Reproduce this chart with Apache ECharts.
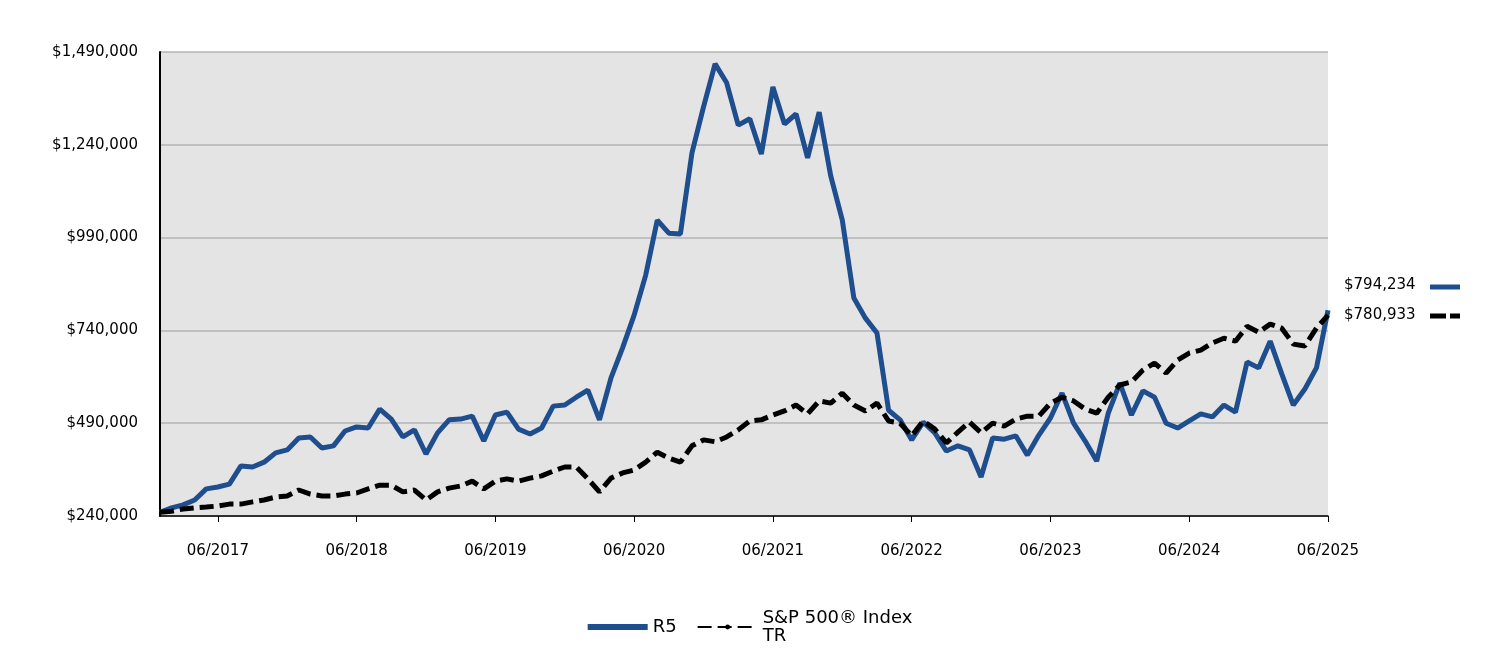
<!DOCTYPE html>
<html><head><meta charset="utf-8">
<script src="https://cdn.jsdelivr.net/npm/echarts@6/dist/echarts.min.js"></script>
<style>html,body{margin:0;padding:0;background:#fff}#c{width:1500px;height:660px}</style>
</head><body><div id="c"></div>
<script>
const startYear = 2017;
const months = [];
for (let i = 0; i < 102; i++) { const m = i % 12 + 1, y = startYear + Math.floor(i / 12); months.push((m < 10 ? '0' : '') + m + '/' + y); }
const tickLabels = ['01/2017','06/2017','06/2018','06/2019','06/2020','06/2021','06/2022','06/2023','06/2024','06/2025'];
const yTicks = [240000, 490000, 740000, 990000, 1240000, 1490000];
const r5 = [250000,262000,270000,283000,313000,318000,326000,375000,372000,385000,410000,418000,450000,453000,423000,429000,469000,480000,477000,528000,501000,453000,472000,407000,464000,499000,501000,509000,442000,512000,520000,474000,461000,477000,536000,539000,560000,579000,499000,612000,693000,781000,889000,1037000,1002000,1000000,1218000,1342000,1458000,1407000,1293000,1310000,1215000,1396000,1296000,1323000,1205000,1328000,1156000,1037000,827000,773000,733000,525000,499000,445000,493000,464000,415000,429000,418000,345000,450000,447000,456000,404000,458000,504000,571000,490000,442000,388000,517000,598000,512000,577000,560000,490000,477000,496000,515000,507000,539000,520000,655000,639000,711000,623000,539000,582000,639000,794234];
const sp = [250000,253000,259000,262000,264000,267000,272000,272000,278000,283000,291000,294000,310000,299000,294000,294000,299000,302000,313000,323000,323000,305000,310000,283000,305000,315000,321000,334000,313000,334000,340000,334000,342000,348000,361000,372000,372000,340000,305000,342000,356000,364000,385000,412000,396000,385000,429000,445000,440000,453000,472000,496000,499000,512000,523000,539000,515000,550000,544000,571000,539000,523000,544000,496000,490000,456000,496000,474000,437000,466000,493000,464000,490000,482000,501000,509000,509000,544000,560000,550000,528000,517000,560000,593000,601000,633000,652000,625000,660000,679000,687000,706000,719000,711000,751000,735000,757000,746000,703000,698000,746000,780933];
const seriesNames = ['R5', 'S&P 500® Index\nTR'];
const font = 'DejaVu Sans';
const fmt = v => '$' + v.toLocaleString('en-US');
const chart = echarts.init(document.getElementById('c'));
chart.setOption({
  animation: false,
  textStyle: { fontFamily: font },
  grid: { left: 160, right: 172, top: 52, bottom: 144, show: true, backgroundColor: '#e4e4e4', borderWidth: 0 },
  legend: { bottom: 10, left: 'center', itemWidth: 60, itemHeight: 6, itemGap: 20,
    textStyle: { fontSize: 18, color: '#000', fontFamily: font },
    data: [{ name: seriesNames[0], icon: 'rect' }, { name: seriesNames[1] }] },
  xAxis: { type: 'category', data: months, boundaryGap: false,
    axisLine: { lineStyle: { color: '#000', width: 1.5 } },
    axisTick: { show: true, length: 6, lineStyle: { color: '#000' }, interval: (i, v) => tickLabels.includes(v) },
    axisLabel: { interval: (i, v) => tickLabels.includes(v), margin: 28, fontSize: 15, color: '#000', fontFamily: font },
    splitLine: { show: false } },
  yAxis: { type: 'value', min: 240000, max: 1490000,
    axisLine: { show: true, lineStyle: { color: '#000', width: 2 } },
    axisTick: { show: false, customValues: yTicks },
    axisLabel: { customValues: yTicks, formatter: fmt, fontSize: 15, color: '#000', margin: 22, fontFamily: font },
    splitLine: { show: true, lineStyle: { color: '#b4b4b4', width: 1.5 } } },
  series: [
    { name: seriesNames[0], type: 'line', data: r5, symbol: 'none', lineStyle: { color: '#1f4e8f', width: 5 }, itemStyle: { color: '#1f4e8f' },
      endLabel: { show: true, formatter: p => fmt(p.value), offset: [8, -25], fontSize: 15, color: '#000', fontFamily: font } },
    { name: seriesNames[1], type: 'line', data: sp, symbol: 'none', lineStyle: { color: '#000', width: 5, type: [14, 6] }, itemStyle: { color: '#000' },
      endLabel: { show: true, formatter: p => fmt(p.value), offset: [8, 0], fontSize: 15, color: '#000', fontFamily: font } }
  ],
  graphic: [
    { type: 'line', shape: { x1: 1430, y1: 287, x2: 1460, y2: 287 }, style: { stroke: '#1f4e8f', lineWidth: 5 } },
    { type: 'line', shape: { x1: 1430, y1: 316, x2: 1460, y2: 316 }, style: { stroke: '#000', lineWidth: 5, lineDash: [16, 4] } }
  ]
});
</script></body></html>
